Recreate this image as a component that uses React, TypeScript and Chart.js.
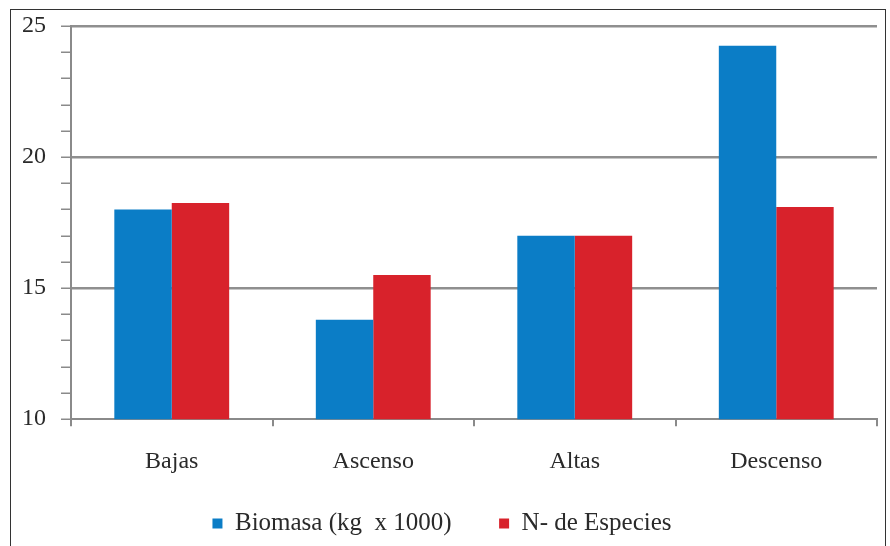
import React, { useEffect, useRef } from "react";
import { Chart, registerables } from "chart.js";

Chart.register(...registerables);

const categories = ["Bajas", "Ascenso", "Altas", "Descenso"];
const biomasa = [18.0, 13.8, 17.0, 24.25];
const especies = [18.25, 15.5, 17.0, 18.1];
const seriesLabels = ["Biomasa (kg  x 1000)", "N- de Especies"];

export default function App() {
  const ref = useRef<HTMLCanvasElement | null>(null);
  useEffect(() => {
    if (!ref.current) return;
    const font = "'Liberation Serif', 'Times New Roman', serif";
    const chart = new Chart(ref.current, {
      type: "bar",
      data: {
        labels: categories,
        datasets: [
          { label: seriesLabels[0], data: biomasa, backgroundColor: "#0b7dc6", categoryPercentage: 0.57, barPercentage: 1 },
          { label: seriesLabels[1], data: especies, backgroundColor: "#d8222b", categoryPercentage: 0.57, barPercentage: 1 },
        ],
      },
      options: {
        animation: false,
        responsive: false,
        layout: { padding: { left: 0, right: 10, top: 1, bottom: 0 } },
        plugins: {
          tooltip: { enabled: false },
          legend: {
            position: "bottom",
            labels: {
              font: { family: font, size: 25 },
              color: "#2a2a2a",
              boxWidth: 10,
              boxHeight: 10,
              padding: 10,
              generateLabels: (c: any) => {
                const items = Chart.defaults.plugins.legend.labels.generateLabels(c);
                return items.map((it: any, i: number) =>
                  i < items.length - 1 ? { ...it, text: it.text + "\u00a0\u00a0\u00a0\u00a0\u00a0\u00a0" } : it
                );
              },
            },
          },
        },
        scales: {
          x: {
            afterFit: (scale: any) => {
              scale.height += 4;
            },
            grid: {
              offset: true,
              drawOnChartArea: false,
              drawTicks: true,
              tickLength: 7,
              tickColor: "#8a8a8a",
              lineWidth: 2,
            },
            border: { color: "#8a8a8a", width: 2 },
            ticks: { font: { family: font, size: 24 }, color: "#2a2a2a", padding: 21 },
          },
          y: {
            min: 10,
            max: 25,
            ticks: {
              stepSize: 1,
              autoSkip: false,
              font: { family: font, size: 24, lineHeight: 0.1 },
              color: "#2a2a2a",
              padding: 15,
              callback: (v: any) => (Number(v) % 5 === 0 ? String(v) : ""),
            },
            grid: {
              color: (ctx: any) => (ctx.tick && ctx.tick.value % 5 === 0 && ctx.tick.value !== 10 ? "#8f8f8f" : "rgba(0,0,0,0)"),
              lineWidth: 2.5,
              tickLength: 10,
              tickColor: "#8a8a8a",
              tickWidth: 1.5,
            },
            border: { color: "#8a8a8a", width: 2 },
          },
        },
      },
    });
    return () => chart.destroy();
  }, []);
  return (
    <div style={{ position: "absolute", left: 0, top: 0, width: 890, height: 546, background: "#fff" }}>
      <div style={{ position: "absolute", left: 10, top: 9, width: 874, height: 560, border: "1.5px solid #333" }} />
      <canvas ref={ref} width={880} height={536} style={{ position: "absolute", left: 7, top: 10 }} />
    </div>
  );
}
